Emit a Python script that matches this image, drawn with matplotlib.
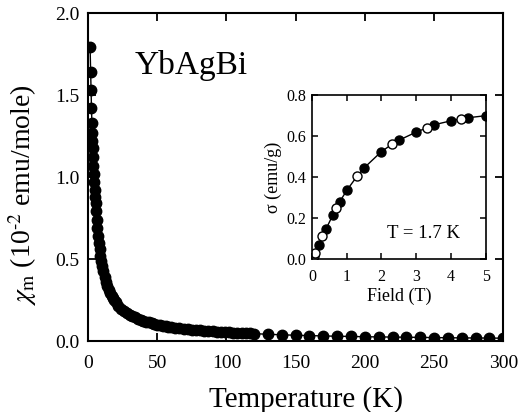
import numpy as np
import matplotlib
matplotlib.use("Agg")
import matplotlib.pyplot as plt

# susceptibility vs temperature
temp_k = [1.5, 1.9, 2.2, 2.5, 2.8, 3.0, 3.2, 3.4, 3.7, 3.9, 4.2, 4.5, 4.8, 5.1, 5.5,
          5.9, 6.3, 6.8, 7.3, 7.8, 8.4, 9.0, 9.6, 10.3, 11, 12, 13, 14, 15, 16, 17,
          18, 19, 20, 22, 24, 26, 28, 30, 32, 34, 36, 38, 40, 42, 44, 46, 48, 50,
          52, 54, 56, 58, 60, 63, 66, 69, 72, 75, 78, 81, 84, 87, 90, 93, 96, 99,
          102, 105, 108, 111, 114, 117, 120, 130, 140, 150, 160, 170, 180, 190,
          200, 210, 220, 230, 240, 250, 260, 270, 280, 290, 300]
chi_m = [1.79, 1.64, 1.53, 1.42, 1.33, 1.27, 1.22, 1.18, 1.12, 1.07, 1.02, 0.97,
         0.92, 0.88, 0.84, 0.79, 0.74, 0.69, 0.64, 0.60, 0.56, 0.52, 0.49, 0.46,
         0.43, 0.39, 0.36, 0.335, 0.31, 0.29, 0.275, 0.26, 0.248, 0.236, 0.215,
         0.198, 0.184, 0.172, 0.161, 0.152, 0.144, 0.137, 0.130, 0.124, 0.118,
         0.113, 0.108, 0.104, 0.100, 0.097, 0.094, 0.091, 0.088, 0.085, 0.081,
         0.078, 0.075, 0.072, 0.069, 0.067, 0.065, 0.063, 0.061, 0.059, 0.057,
         0.055, 0.054, 0.052, 0.051, 0.050, 0.048, 0.047, 0.046, 0.045, 0.041,
         0.038, 0.035, 0.033, 0.031, 0.029, 0.028, 0.026, 0.025, 0.024, 0.023,
         0.022, 0.021, 0.020, 0.019, 0.0185, 0.018, 0.017]

# magnetization vs field at 1.7 K
field_filled = [0.2, 0.4, 0.6, 0.8, 1.0, 1.5, 2.0, 2.5, 3.0, 3.5, 4.0, 4.5, 5.0]
sigma_filled = [0.07, 0.145, 0.215, 0.28, 0.335, 0.445, 0.525, 0.58, 0.62, 0.655,
                0.675, 0.69, 0.70]
field_open = [0.0, 0.05, 0.1, 0.3, 0.7, 1.3, 2.3, 3.3, 4.3]
sigma_open = [0.0, 0.015, 0.032, 0.113, 0.25, 0.405, 0.56, 0.64, 0.685]

plt.rcParams["font.family"] = ["Liberation Serif", "DejaVu Serif"]
plt.rcParams["mathtext.fontset"] = "stix"

fig = plt.figure(figsize=(5.19, 4.12), dpi=100)
ax = fig.add_axes([0.1696, 0.1723, 0.800, 0.796])

ax.plot(temp_k, chi_m, "-", color="black", lw=1.0, marker="o", ms=7.5,
        mfc="black", mec="black")
ax.set_xlim(0, 300)
ax.set_ylim(0, 2.0)
ax.set_xticks(np.arange(0, 301, 50))
ax.set_yticks([0.0, 0.5, 1.0, 1.5, 2.0])
ax.set_yticklabels(["0.0", "0.5", "1.0", "1.5", "2.0"])
ax.tick_params(direction="in", length=6, width=1.3, labelsize=14,
               top=True, right=True, pad=6)
ax.tick_params(axis="x", pad=10)
for s in ax.spines.values():
    s.set_linewidth(1.5)
ax.set_xlabel("Temperature (K)", fontsize=21, labelpad=10)
ax.xaxis.label.set_x(0.525)
ax.set_ylabel(r"$\chi_{\rm m}$ (10$^{\text{-2}}$ emu/mole)", fontsize=20, labelpad=12)
ax.yaxis.label.set_y(0.445)
ax.text(74.5, 1.68, "YbAgBi", fontsize=24, ha="center", va="center")

# inset
ins = fig.add_axes([0.601, 0.371, 0.335, 0.398])
field_all = sorted(zip(field_filled + field_open, sigma_filled + sigma_open))
ins.plot([p[0] for p in field_all], [p[1] for p in field_all], "-", color="black",
         lw=1.0)
ins.plot(field_filled, sigma_filled, "o", ms=6.5, mfc="black", mec="black")
ins.plot(field_open, sigma_open, "o", ms=6.5, mfc="white", mec="black", mew=1.0)
ins.set_xlim(0, 5)
ins.set_ylim(0, 0.8)
ins.set_xticks(range(0, 6))
ins.set_yticks([0.0, 0.2, 0.4, 0.6, 0.8])
ins.set_yticklabels(["0.0", "0.2", "0.4", "0.6", "0.8"])
ins.tick_params(direction="in", length=4, width=1.1, labelsize=11.5,
                top=True, right=True, pad=4)
ins.tick_params(axis="x", pad=7)
for s in ins.spines.values():
    s.set_linewidth(1.2)
ins.set_xlabel("Field (T)", fontsize=13, labelpad=2)
ins.set_ylabel("σ (emu/g)", fontsize=13, labelpad=3)
ins.text(3.22, 0.127, "T = 1.7 K", fontsize=13.5, ha="center", va="center")

fig.savefig("out.png", dpi=100)
